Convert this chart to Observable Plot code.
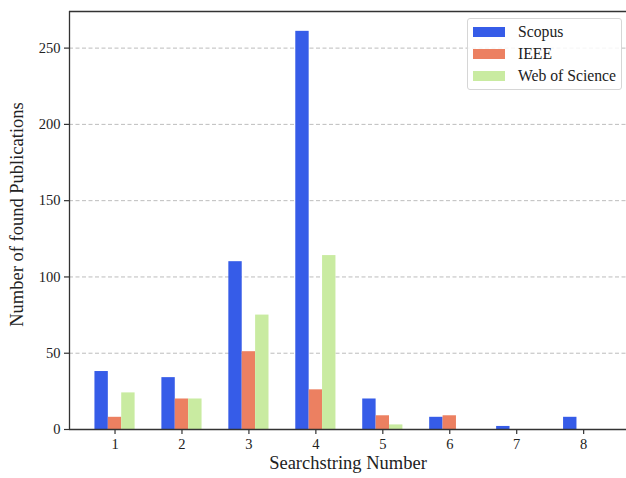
<!DOCTYPE html>
<html><head><meta charset="utf-8">
<script src="https://cdn.jsdelivr.net/npm/d3@7"></script>
<script src="https://cdn.jsdelivr.net/npm/@observablehq/plot@0.6"></script>
<style>
body{margin:0;background:#fff;}
#wrap{position:relative;width:626px;height:478px;overflow:hidden;}
#wrap svg text{font-family:"Liberation Serif",serif !important;font-variant:normal !important;font-variant-numeric:normal !important;}
.legend{position:absolute;left:467px;top:18px;width:155px;height:72px;border:1px solid #d6d6d6;border-radius:3px;background:rgba(255,255,255,0.85);box-sizing:border-box;font-family:"Liberation Serif",serif;font-size:15.7px;color:#222;}
.row{position:absolute;left:5px;height:22px;display:flex;align-items:center;white-space:nowrap;}
.sw{width:32px;height:10px;margin-right:13px;}
</style></head>
<body><div id="wrap"></div>
<script>
const searchstrings = [1, 2, 3, 4, 5, 6, 7, 8];
const scopus = [38, 34, 110, 261, 20, 8, 2, 8];
const ieee = [8, 20, 51, 26, 9, 9, 0, 0];
const wos = [24, 20, 75, 114, 3, 0, 0, 0];
const sources = ["Scopus", "IEEE", "Web of Science"];
const colors = ["#365ce8", "#ec8061", "#c9eba1"];
const yTicks = [0, 50, 100, 150, 200, 250];
const xLabel = "Searchstring Number";
const yLabel = "Number of found Publications";

const series = [scopus, ieee, wos];
const barWidth = 0.2;
const rows = [];
series.forEach((vals, i) => {
  vals.forEach((v, j) => {
    rows.push({n: searchstrings[j], source: sources[i], value: v, k: i - 1});
  });
});

const serif = "Liberation Serif, serif";
const chart = Plot.plot({
  width: 626, height: 478,
  marginLeft: 69, marginRight: 0, marginTop: 11, marginBottom: 49,
  style: {fontFamily: serif, fontSize: "14px", color: "#222", background: "white"},
  x: {domain: [0.32, 8.64], label: null},
  y: {domain: [0, 274], label: null},
  color: {domain: sources, range: colors},
  marks: [
    Plot.gridY(yTicks.filter(v => v > 0), {stroke: "#b5b5b5", strokeOpacity: 1, strokeDasharray: "4,2.5", strokeWidth: 0.9}),
    Plot.rectY(rows, {
      x1: d => d.n + d.k * barWidth - barWidth / 2,
      x2: d => d.n + d.k * barWidth + barWidth / 2,
      y1: 0, y2: "value", fill: "source", inset: 0
    }),
    Plot.axisX(searchstrings, {tickSize: 5, tickPadding: 4, fontSize: 14.5, fontFamily: serif, fontVariant: "normal", fill: "#222", label: null, stroke: "#333", strokeWidth: 1.2, tickFormat: d => String(d)}),
    Plot.axisY(yTicks, {tickSize: 5, tickPadding: 4, fontSize: 14.5, fontFamily: serif, fontVariant: "normal", fill: "#222", label: null, stroke: "#333", strokeWidth: 1.2}),
    Plot.ruleY([0], {stroke: "#333", strokeWidth: 1.3}),
    Plot.ruleY([274], {stroke: "#333", strokeWidth: 1.3}),
    Plot.ruleX([0.32], {stroke: "#333", strokeWidth: 1.3}),
    Plot.text([xLabel], {frameAnchor: "bottom", dy: 39, fontSize: 18.5, fontFamily: serif, fill: "#222", lineAnchor: "bottom"}),
    Plot.text([yLabel], {frameAnchor: "left", textAnchor: "middle", rotate: -90, dx: -52, dy: -6, fontSize: 18.5, fontFamily: serif, fill: "#222"})
  ]
});

const wrap = document.getElementById("wrap");
wrap.appendChild(chart);

const legend = document.createElement("div");
legend.className = "legend";
sources.forEach((s, i) => {
  const r = document.createElement("div");
  r.className = "row";
  r.style.top = (2 + i * 22) + "px";
  const sw = document.createElement("span");
  sw.className = "sw";
  sw.style.background = colors[i];
  const t = document.createElement("span");
  t.textContent = s;
  r.appendChild(sw); r.appendChild(t);
  legend.appendChild(r);
});
wrap.appendChild(legend);
</script>
</body></html>
